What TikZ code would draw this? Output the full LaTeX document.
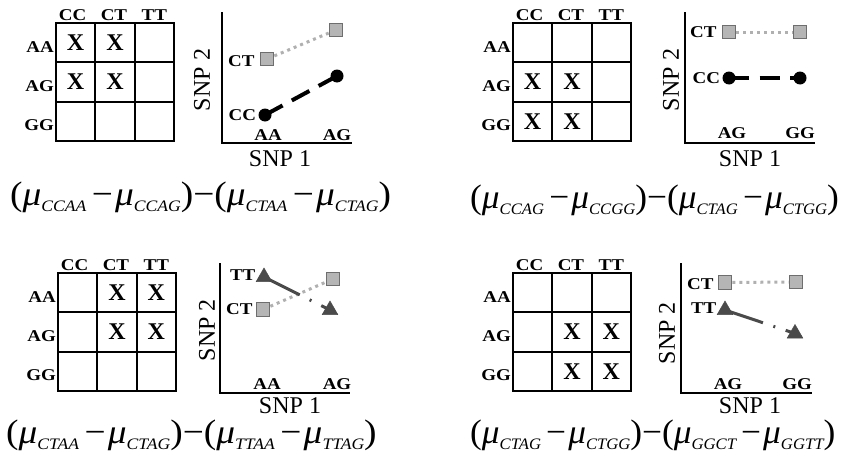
\documentclass[tikz,border=0pt]{standalone}
\usepackage{fontspec}
\setmainfont{Liberation Serif}
\usetikzlibrary{shapes.geometric,backgrounds}
\definecolor{sqfill}{HTML}{B5B5B5}
\definecolor{sqedge}{HTML}{6E6E6E}
\definecolor{dotgray}{HTML}{B0B0B0}
\definecolor{trigray}{HTML}{4A4A4A}
\newcommand{\musub}[1]{\textit{μ}\raisebox{-6pt}{\fontsize{16}{16}\selectfont\itshape #1}}
\newcommand{\mminus}{\hspace{5pt}−\hspace{2pt}}
\newcommand{\mformula}[5]{\scalebox{#1}[1]{(\musub{#2}\mminus\musub{#3})−(\musub{#4}\mminus\musub{#5})}}
\newcommand{\lb}[1]{\scalebox{1.15}[1]{#1}}
\newcommand{\snpgrid}[4]{%
  \foreach \r in {1,2,3}{\foreach \c in {1,2,3}{%
    \node[cell] (#1g\r\c) at ({#2+(\c-0.5)*39.3},{#3+(\r-0.5)*39.3}) {};}}
  \foreach \r/\c in {#4}{\node[xmark] (#1x\r\c) at (#1g\r\c) {X};}
  \node[lab, anchor=south, xshift=-3pt] (#1colcc) at (#1g11.north) {\lb{CC}};
  \node[lab, anchor=south, xshift=-1pt] (#1colct) at (#1g12.north) {\lb{CT}};
  \node[lab, anchor=south] (#1coltt) at (#1g13.north) {\lb{TT}};
  \node[lab, anchor=east, yshift=-4pt] (#1rowaa) at (#1g11.west) {\lb{AA}};
  \node[lab, anchor=east, yshift=-4pt] (#1rowag) at (#1g21.west) {\lb{AG}};
  \node[lab, anchor=east, yshift=-4pt] (#1rowgg) at (#1g31.west) {\lb{GG}};
}
\tikzset{
  cell/.style={draw, line width=2pt, minimum size=39.3pt, inner sep=0pt},
  xmark/.style={font=\fontsize{24}{24}\selectfont\bfseries, inner sep=0pt},
  lab/.style={font=\fontsize{16.5}{16.5}\selectfont\bfseries, inner sep=1pt},
  axislab/.style={font=\fontsize{24}{24}\selectfont, inner sep=0pt},
  axisline/.style={line width=2pt},
  sqmark/.style={rectangle, draw=sqedge, fill=sqfill, line width=1.2pt, minimum size=13.5pt, inner sep=0pt},
  circmark/.style={circle, fill=black, minimum size=13pt, inner sep=0pt},
  trimark/.style={regular polygon, regular polygon sides=3, fill=trigray, draw=trigray, line width=0.5pt, minimum size=18pt, inner sep=0pt},
  dotline/.style={dotgray, line width=3pt, dash pattern=on 3pt off 4pt},
  dashline/.style={black, line width=4pt, dash pattern=on 20pt off 10.5pt},
  dashdotline/.style={trigray, line width=3pt, dash pattern=on 40pt off 11pt on 2pt off 11pt},
  formula/.style={font=\fontsize{34}{34}\selectfont, inner sep=0pt, anchor=west}
}
\begin{document}
\begin{tikzpicture}[x=1pt,y=-1pt]
\useasboundingbox (0,0) rectangle (851,455);
\clip (0,0) rectangle (851,455);

% ---------------- Panel A (top left)
\snpgrid{a}{56}{23}{1/1,1/2,2/1,2/2}
\coordinate (ao) at (222,143); \coordinate (atop) at (222,12); \coordinate (aright) at (352,143);
\draw[axisline] (atop) -- (ao) -- (aright);
\node[axislab, rotate=90] (asnp2) at (202,80) {SNP 2};
\node[axislab] (asnp1) at (280,159) {SNP 1};
\node[lab] (atk1) at (268,135) {\lb{AA}};
\node[lab] (atk2) at (337,135) {\lb{AG}};
\node[sqmark] (as1) at (267,59) {};
\node[sqmark] (as2) at (336,30) {};
\node[circmark] (ac1) at (265,115) {};
\node[circmark] (ac2) at (337,76) {};
\node[lab, anchor=east] (act) at ([xshift=-4pt,yshift=-2pt]as1.west) {\lb{CT}};
\node[lab, anchor=east] (acc) at ([xshift=-1pt]ac1.west) {\lb{CC}};
\begin{scope}[on background layer]
\draw[dotline] (as1) -- (as2);
\draw[dashline] (ac1.center) -- (ac2.center);
\end{scope}
\node[formula] (af) at (10,197) {\mformula{1.1}{CCAA}{CCAG}{CTAA}{CTAG}};

% ---------------- Panel B (top right)
\snpgrid{b}{513}{23}{2/1,2/2,3/1,3/2}
\coordinate (bo) at (685,143); \coordinate (btop) at (685,12); \coordinate (bright) at (815,143);
\draw[axisline] (btop) -- (bo) -- (bright);
\node[axislab, rotate=90] (bsnp2) at (671,80) {SNP 2};
\node[axislab] (bsnp1) at (750,159) {SNP 1};
\node[lab] (btk1) at (732,133) {\lb{AG}};
\node[lab] (btk2) at (800,133) {\lb{GG}};
\node[sqmark] (bs1) at (729,32) {};
\node[sqmark] (bs2) at (800,32) {};
\node[circmark] (bc1) at (729,78) {};
\node[circmark] (bc2) at (800,78) {};
\node[lab, anchor=east] (bct) at ([xshift=-4pt]bs1.west) {\lb{CT}};
\node[lab, anchor=east] (bcc) at ([xshift=-1pt]bc1.west) {\lb{CC}};
\begin{scope}[on background layer]
\draw[dotline] (bs1) -- (bs2);
\draw[dashline] (bc1.center) -- (bc2.center);
\end{scope}
\node[formula] (bf) at (470,200) {\mformula{1.04}{CCAG}{CCGG}{CTAG}{CTGG}};

% ---------------- Panel C (bottom left)
\snpgrid{c}{58}{273}{1/2,1/3,2/2,2/3}
\coordinate (co) at (220,393); \coordinate (ctop) at (220,263); \coordinate (cright) at (350,393);
\draw[axisline] (ctop) -- (co) -- (cright);
\node[axislab, rotate=90] (csnp2) at (207,330) {SNP 2};
\node[axislab] (csnp1) at (290,406) {SNP 1};
\node[lab] (ctk1) at (267,384) {\lb{AA}};
\node[lab] (ctk2) at (337,384) {\lb{AG}};
\node[trimark] (ct1) at (264,277) {};
\node[trimark] (ct2) at (330,310) {};
\node[sqmark] (cs1) at (263,309.5) {};
\node[sqmark] (cs2) at (333,279) {};
\node[lab, anchor=east] (ctt) at ([xshift=-2pt,yshift=2pt]ct1.west) {\lb{TT}};
\node[lab, anchor=east] (cct) at ([xshift=-2pt]cs1.west) {\lb{CT}};
\begin{scope}[on background layer]
\draw[dotline] (cs1) -- (cs2);
\draw[dashdotline] (ct1.center) -- (ct2.center);
\end{scope}
\node[formula] (cf) at (6,435) {\mformula{1.1}{CTAA}{CTAG}{TTAA}{TTAG}};

% ---------------- Panel D (bottom right)
\snpgrid{d}{513}{273}{2/2,2/3,3/2,3/3}
\coordinate (do) at (681,393); \coordinate (dtop) at (681,263); \coordinate (dright) at (812,393);
\draw[axisline] (dtop) -- (do) -- (dright);
\node[axislab, rotate=90] (dsnp2) at (667,333) {SNP 2};
\node[axislab] (dsnp1) at (750,406) {SNP 1};
\node[lab] (dtk1) at (728,384) {\lb{AG}};
\node[lab] (dtk2) at (797,384) {\lb{GG}};
\node[sqmark] (ds1) at (725,282.5) {};
\node[sqmark] (ds2) at (796,282) {};
\node[trimark] (dt1) at (725,310) {};
\node[trimark] (dt2) at (795,333.5) {};
\node[lab, anchor=east] (dct) at ([xshift=-3pt,yshift=-2pt]ds1.west) {\lb{CT}};
\node[lab, anchor=east] (dtt) at ([xshift=-2pt,yshift=2pt]dt1.west) {\lb{TT}};
\begin{scope}[on background layer]
\draw[dotline] (ds1) -- (ds2);
\draw[dashdotline] (dt1.center) -- (dt2.center);
\end{scope}
\node[formula] (df) at (470,435) {\mformula{1.04}{CTAG}{CTGG}{GGCT}{GGTT}};
\end{tikzpicture}
\end{document}
